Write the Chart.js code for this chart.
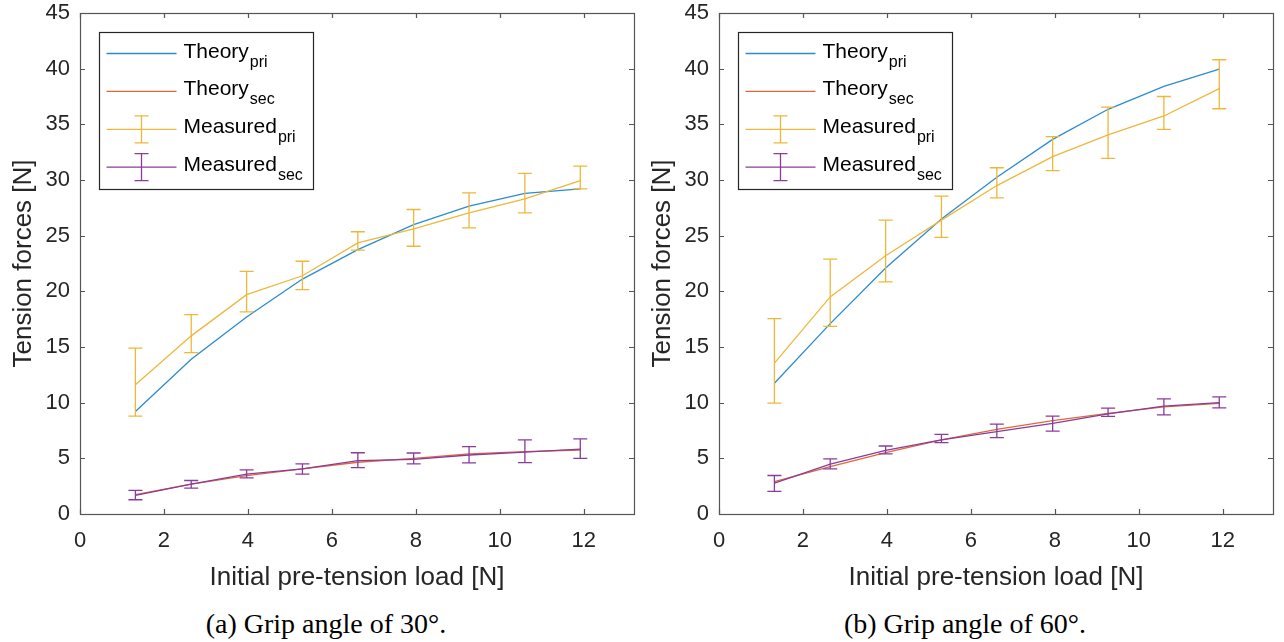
<!DOCTYPE html>
<html>
<head>
<meta charset="utf-8">
<script src="https://cdn.jsdelivr.net/npm/chart.js@4.4.1/dist/chart.umd.min.js"></script>
<style>
    body { margin: 0; background: #fff; width: 1284px; height: 642px; position: relative; overflow: hidden; }
    canvas { position: absolute; top: 0; }
    .caption {
        position: absolute; top: 608px; line-height: 32px;
        font-family: 'Liberation Serif', 'Times New Roman', serif; font-size: 28px; color: #000;
        white-space: nowrap; transform: translateX(-50%);
    }
</style>
</head>
<body>
<canvas id="chartA" width="639" height="600" style="left:0"></canvas>
<canvas id="chartB" width="645" height="600" style="left:639px"></canvas>
<div class="caption" style="left:326px">(a) Grip angle of 30°.</div>
<div class="caption" style="left:965px">(b) Grip angle of 60°.</div>
<script>
// Tension forces vs. initial pre-tension load, two grip angles

// MATLAB default line colours (slightly lighter, as the thin lines look in the figure)
const COLORS = {
    theoryPri: '#2B8CD0',
    theorySec: '#E0673A',
    measPri: '#EDB83A',
    measSec: '#8A3C9A',
    axis: '#262626'
};

// shared axes
const loads = [1.32, 2.65, 3.97, 5.30, 6.62, 7.95, 9.27, 10.60, 11.92];
const xTicks = [0, 2, 4, 6, 8, 10, 12];
const yTicks = [0, 5, 10, 15, 20, 25, 30, 35, 40, 45];
const legendNames = ['Theory', 'Theory', 'Measured', 'Measured'];
const legendSubs = ['pri', 'sec', 'pri', 'sec'];

// (a) grip angle 30 deg
const theoryPri30 = [9.2, 13.9, 17.7, 21.1, 23.75, 26.0, 27.65, 28.8, 29.2];
const theorySec30 = [1.75, 2.68, 3.45, 4.05, 4.65, 5.0, 5.4, 5.6, 5.75];
const measPri30 = [11.6, 16.0, 19.7, 21.4, 24.35, 25.6, 27.05, 28.3, 29.95];
const measPri30Low = [8.8, 14.5, 18.15, 20.15, 23.7, 24.05, 25.7, 27.05, 29.2];
const measPri30High = [14.9, 17.9, 21.8, 22.7, 25.35, 27.35, 28.85, 30.6, 31.25];
const measSec30 = [1.68, 2.68, 3.58, 4.05, 4.8, 4.9, 5.3, 5.55, 5.82];
const measSec30Low = [1.28, 2.32, 3.25, 3.58, 4.17, 4.5, 4.6, 4.62, 5.0];
const measSec30High = [2.12, 3.01, 3.96, 4.5, 5.5, 5.48, 6.05, 6.65, 6.75];

// (b) grip angle 60 deg
const theoryPri60 = [11.75, 17.1, 22.1, 26.5, 30.25, 33.65, 36.35, 38.4, 39.95];
const theorySec60 = [2.9, 4.26, 5.51, 6.65, 7.6, 8.38, 9.03, 9.63, 9.93];
const measPri60 = [13.55, 19.5, 23.2, 26.4, 29.5, 32.1, 34.05, 35.75, 38.2];
const measPri60Low = [9.95, 16.85, 20.85, 24.85, 28.4, 30.85, 31.95, 34.55, 36.4];
const measPri60High = [17.55, 22.9, 26.4, 28.55, 31.1, 33.9, 36.55, 37.5, 40.8];
const measSec60 = [2.77, 4.47, 5.72, 6.65, 7.39, 8.14, 9.0, 9.69, 10.01];
const measSec60Low = [2.03, 4.05, 5.4, 6.41, 6.86, 7.45, 8.76, 8.91, 9.54];
const measSec60High = [3.46, 4.95, 6.11, 7.15, 8.08, 8.79, 9.51, 10.34, 10.52];

Chart.defaults.font.family = "'Liberation Sans', Arial, sans-serif";
Chart.defaults.color = COLORS.axis;

const toPoints = values => values.map((v, i) => ({ x: loads[i], y: v }));

// vertical error bars with caps, drawn right after their own line
const errorBarPlugin = {
    id: 'errorBars',
    afterDatasetDraw(chart, args) {
        const ds = chart.data.datasets[args.index];
        if (!ds.errLow) return;
        const { ctx, scales: { x, y } } = chart;
        ctx.save();
        ctx.strokeStyle = ds.borderColor;
        ctx.lineWidth = 1.3;
        ds.data.forEach((p, i) => {
            const px = x.getPixelForValue(p.x);
            const yl = y.getPixelForValue(ds.errLow[i]);
            const yh = y.getPixelForValue(ds.errHigh[i]);
            ctx.beginPath();
            ctx.moveTo(px, yl); ctx.lineTo(px, yh);
            ctx.moveTo(px - 7, yl); ctx.lineTo(px + 7, yl);
            ctx.moveTo(px - 7, yh); ctx.lineTo(px + 7, yh);
            ctx.stroke();
        });
        ctx.restore();
    }
};

// MATLAB-like box with inward ticks, then the legend box
const axesBoxPlugin = {
    id: 'axesBox',
    afterDraw(chart) {
        const { ctx, chartArea: a, scales: { x, y } } = chart;
        ctx.save();
        ctx.strokeStyle = '#555';
        ctx.lineWidth = 1.2;
        ctx.strokeRect(Math.round(a.left) + 0.5, Math.round(a.top) + 0.5,
            Math.round(a.right - a.left), Math.round(a.bottom - a.top));
        ctx.beginPath();
        x.ticks.forEach(t => {
            const px = Math.round(x.getPixelForValue(t.value)) + 0.5;
            ctx.moveTo(px, a.bottom); ctx.lineTo(px, a.bottom - 5);
            ctx.moveTo(px, a.top); ctx.lineTo(px, a.top + 5);
        });
        y.ticks.forEach(t => {
            const py = Math.round(y.getPixelForValue(t.value)) + 0.5;
            ctx.moveTo(a.left, py); ctx.lineTo(a.left + 5, py);
            ctx.moveTo(a.right, py); ctx.lineTo(a.right - 5, py);
        });
        ctx.stroke();

        // legend
        const bx = Math.round(a.left + 19) + 0.5, by = Math.round(a.top + 19) + 0.5;
        ctx.fillStyle = '#fff';
        ctx.fillRect(bx, by, 214, 157);
        ctx.strokeStyle = COLORS.axis;
        ctx.lineWidth = 1.2;
        ctx.strokeRect(bx, by, 214, 157);
        chart.data.datasets.forEach((ds, i) => {
            const ry = by + 21 + i * 37.9;
            ctx.strokeStyle = ds.borderColor;
            ctx.lineWidth = 1.3;
            ctx.beginPath();
            ctx.moveTo(bx + 7, ry); ctx.lineTo(bx + 77, ry);
            if (ds.errLow) {
                const cx = bx + 42;
                ctx.moveTo(cx, ry - 13.5); ctx.lineTo(cx, ry + 13.5);
                ctx.moveTo(cx - 7, ry - 13.5); ctx.lineTo(cx + 7, ry - 13.5);
                ctx.moveTo(cx - 7, ry + 13.5); ctx.lineTo(cx + 7, ry + 13.5);
            }
            ctx.stroke();
            ctx.fillStyle = '#000';
            ctx.textBaseline = 'alphabetic';
            ctx.textAlign = 'left';
            ctx.font = "21px 'Liberation Sans', Arial, sans-serif";
            const tx = bx + 84;
            ctx.fillText(legendNames[i], tx, ry + 4);
            const w = ctx.measureText(legendNames[i]).width;
            ctx.font = "16px 'Liberation Sans', Arial, sans-serif";
            ctx.fillText(legendSubs[i], tx + w + 1, ry + 13);
        });
        ctx.restore();
    }
};

function makeChart(canvasId, padRight, series) {
    const ctx = document.getElementById(canvasId);
    return new Chart(ctx, {
        type: 'line',
        data: {
            datasets: [{
                label: 'Theory pri',
                data: toPoints(series.theoryPri),
                borderColor: COLORS.theoryPri,
                order: 4
            }, {
                label: 'Theory sec',
                data: toPoints(series.theorySec),
                borderColor: COLORS.theorySec,
                order: 3
            }, {
                label: 'Measured pri',
                data: toPoints(series.measPri),
                errLow: series.measPriLow,
                errHigh: series.measPriHigh,
                borderColor: COLORS.measPri,
                order: 2
            }, {
                label: 'Measured sec',
                data: toPoints(series.measSec),
                errLow: series.measSecLow,
                errHigh: series.measSecHigh,
                borderColor: COLORS.measSec,
                order: 1
            }]
        },
        options: {
            responsive: false,
            animation: false,
            devicePixelRatio: 1,
            elements: {
                line: { borderWidth: 1.3, tension: 0, fill: false },
                point: { radius: 0, hoverRadius: 0 }
            },
            layout: { padding: { top: 13, right: padRight, left: 0, bottom: 0 } },
            plugins: { legend: { display: false }, tooltip: { enabled: false } },
            scales: {
                x: {
                    type: 'linear', min: 0, max: 13.2,
                    grid: { display: false, drawTicks: false },
                    border: { display: false },
                    afterBuildTicks: s => { s.ticks = xTicks.map(v => ({ value: v })); },
                    afterFit: s => { s.height = 86; s.paddingLeft = 0; s.paddingRight = 0; },
                    ticks: { font: { size: 22 }, padding: 14, maxRotation: 0 },
                    title: {
                        display: true, text: 'Initial pre-tension load [N]',
                        font: { size: 26 }, padding: { top: 0, bottom: 7 }
                    }
                },
                y: {
                    min: 0, max: 45,
                    grid: { display: false, drawTicks: false },
                    border: { display: false },
                    afterBuildTicks: s => { s.ticks = yTicks.map(v => ({ value: v })); },
                    afterFit: s => { s.width = 80; s.paddingTop = 0; s.paddingBottom = 0; },
                    ticks: { font: { size: 22 }, padding: 10 },
                    title: {
                        display: true, text: 'Tension forces [N]',
                        font: { size: 26 }, padding: { top: 8, bottom: 0 }
                    }
                }
            }
        },
        plugins: [errorBarPlugin, axesBoxPlugin]
    });
}

makeChart('chartA', 5, {
    theoryPri: theoryPri30, theorySec: theorySec30,
    measPri: measPri30, measPriLow: measPri30Low, measPriHigh: measPri30High,
    measSec: measSec30, measSecLow: measSec30Low, measSecHigh: measSec30High
});
makeChart('chartB', 11, {
    theoryPri: theoryPri60, theorySec: theorySec60,
    measPri: measPri60, measPriLow: measPri60Low, measPriHigh: measPri60High,
    measSec: measSec60, measSecLow: measSec60Low, measSecHigh: measSec60High
});
</script>
</body>
</html>
